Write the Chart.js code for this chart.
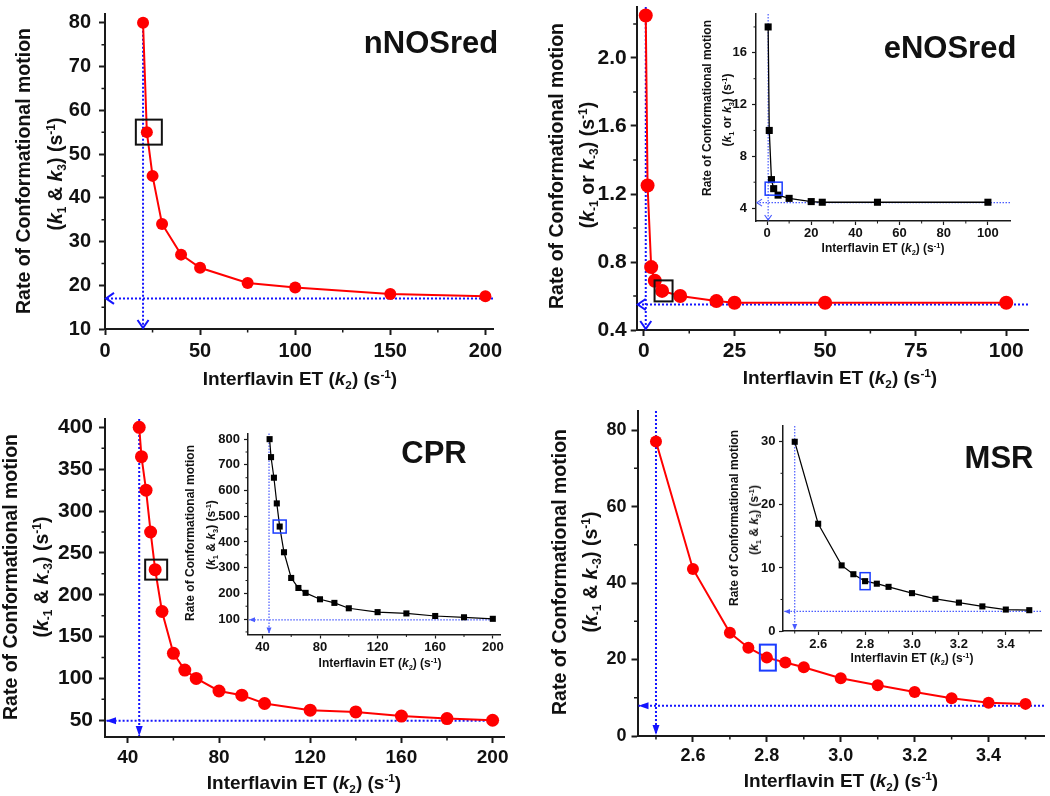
<!DOCTYPE html>
<html>
<head>
<meta charset="utf-8">
<script src="https://cdn.jsdelivr.net/npm/chart.js@4.4.1/dist/chart.umd.min.js"></script>
<style>
  body { margin: 0; width: 1050px; height: 796px; position: relative; overflow: hidden; background: #fff; }
  canvas { position: absolute; }
  .lbl { position: absolute; white-space: nowrap; font-family: "Liberation Sans", Arial, sans-serif; font-weight: bold; color: #111; line-height: 1; }
  .lbl sub, .lbl sup { font-size: 0.62em; line-height: 0; position: relative; vertical-align: baseline; }
  .lbl sub { top: 0.35em; }
  .lbl sup { top: -0.6em; }
</style>
</head>
<body>
<script>
// nNOSred
const nnosK2 = [20, 22, 25, 30, 40, 50, 75, 100, 150, 200];
const nnosRate = [80, 55, 45, 34, 27, 24, 20.5, 19.5, 18, 17.5];
const nnosXTicks = [0, 50, 100, 150, 200];
const nnosYTicks = [10, 20, 30, 40, 50, 60, 70, 80];

// eNOSred (main + inset)
const enosK2 = [0.5, 1, 2, 3, 5, 10, 20, 25, 50, 100];
const enosRate = [2.25, 1.25, 0.77, 0.69, 0.63, 0.60, 0.57, 0.56, 0.56, 0.56];
const enosInsetRate = [18, 10, 6.2, 5.5, 5.0, 4.75, 4.5, 4.45, 4.45, 4.45];
const enosXTicks = [0, 25, 50, 75, 100];
const enosYTicks = [0.4, 0.8, 1.2, 1.6, 2.0];
const enosInsetXTicks = [0, 20, 40, 60, 80, 100];
const enosInsetYTicks = [4, 8, 12, 16];

// CPR (main + inset)
const cprK2 = [45, 46, 48, 50, 52, 55, 60, 65, 70, 80, 90, 100, 120, 140, 160, 180, 200];
const cprRate = [400, 365, 325, 275, 230, 180, 130, 110, 100, 85, 80, 70, 62, 60, 55, 52, 50];
const cprInsetRate = [800, 730, 650, 550, 460, 360, 260, 221, 202, 177, 163, 142, 127, 122, 112, 107, 101];
const cprXTicks = [40, 80, 120, 160, 200];
const cprYTicks = [50, 100, 150, 200, 250, 300, 350, 400];
const cprInsetYTicks = [100, 200, 300, 400, 500, 600, 700, 800];

// MSR (main + inset)
const msrK2 = [2.5, 2.6, 2.7, 2.75, 2.8, 2.85, 2.9, 3.0, 3.1, 3.2, 3.3, 3.4, 3.5];
const msrRate = [77, 43.7, 27, 23.1, 20.5, 19.2, 18, 15.1, 13.3, 11.5, 9.9, 8.7, 8.4];
const msrInsetRate = [30, 17, 10.4, 9, 7.9, 7.5, 7, 6, 5.1, 4.5, 3.9, 3.4, 3.3];
const msrXTicks = [2.6, 2.8, 3.0, 3.2, 3.4];
const msrYTicks = [0, 20, 40, 60, 80];
const msrInsetYTicks = [0, 10, 20, 30];

const FONT = '"Liberation Sans", Arial, sans-serif';
const AXIS = '#1a1a1a';
const RED = '#ff0000';
const BLUE = '#1414ff';
const LIGHTBLUE = '#4a5cff';

// minor ticks sit halfway between the major ones
function minorTicks(major, min, max) {
  const out = [];
  const step = major[1] - major[0];
  out.push(major[0] - step / 2);
  major.forEach(v => out.push(v + step / 2));
  return out.filter(v => v > min + 1e-9 && v < max - 1e-9);
}

function arrow(ctx, tx, ty, dx, dy, style, len, half) {
  const bx = tx - dx * len, by = ty - dy * len;
  const px = -dy, py = dx;
  ctx.beginPath();
  ctx.moveTo(bx + px * half, by + py * half);
  ctx.lineTo(tx, ty);
  ctx.lineTo(bx - px * half, by - py * half);
  if (style === 'open') {
    ctx.stroke();
  } else {
    ctx.closePath();
    ctx.fill();
  }
}

// dotted guide lines, highlight box and minor ticks
const decor = {
  id: 'decor',
  beforeDatasetsDraw(chart, args, o) {
    const { ctx, chartArea: a, scales: { x, y } } = chart;
    const gx = x.getPixelForValue(o.guideX);
    const gy = y.getPixelForValue(o.guideY);
    const top = o.guideTop !== undefined ? y.getPixelForValue(o.guideTop) : a.top;
    const right = o.guideEnd !== undefined ? x.getPixelForValue(o.guideEnd) : a.right;
    ctx.save();
    ctx.strokeStyle = o.guideColor;
    ctx.fillStyle = o.guideColor;
    ctx.lineWidth = o.guideWidth;
    ctx.setLineDash([o.dashOn, o.dashOff]);
    ctx.beginPath();
    ctx.moveTo(gx, top);
    ctx.lineTo(gx, a.bottom - 1);
    ctx.moveTo(right, gy);
    ctx.lineTo(a.left + 1, gy);
    ctx.stroke();
    ctx.setLineDash([]);
    arrow(ctx, gx, a.bottom - 1, 0, 1, o.arrow, o.arrowLen, o.arrowHalf);
    arrow(ctx, a.left + 1, gy, -1, 0, o.arrow, o.arrowLen, o.arrowHalf);
    ctx.restore();
  },
  afterDatasetsDraw(chart, args, o) {
    const { ctx } = chart;
    const pt = chart.getDatasetMeta(0).data[o.boxIndex];
    ctx.save();
    ctx.strokeStyle = o.boxColor;
    ctx.lineWidth = o.boxLine;
    ctx.strokeRect(pt.x - o.boxW / 2 + o.boxDx, pt.y - o.boxH / 2, o.boxW, o.boxH);
    ctx.restore();
  },
  afterDraw(chart, args, o) {
    const { ctx, chartArea: a, scales: { x, y } } = chart;
    ctx.save();
    ctx.strokeStyle = AXIS;
    ctx.lineWidth = o.minorWidth;
    ctx.beginPath();
    minorTicks(x.ticks.map(t => t.value), x.min, x.max).forEach(v => {
      const p = x.getPixelForValue(v);
      ctx.moveTo(p, a.bottom);
      ctx.lineTo(p, a.bottom + o.minorLen);
    });
    minorTicks(y.ticks.map(t => t.value), y.min, y.max).forEach(v => {
      const p = y.getPixelForValue(v);
      ctx.moveTo(a.left, p);
      ctx.lineTo(a.left - o.minorLen, p);
    });
    ctx.stroke();
    ctx.restore();
  }
};
Chart.register(decor);

function addCanvas(left, top, w, h) {
  const c = document.createElement('canvas');
  c.width = w;
  c.height = h;
  c.style.left = left + 'px';
  c.style.top = top + 'px';
  c.style.width = w + 'px';
  c.style.height = h + 'px';
  document.body.appendChild(c);
  return c;
}

function axisOpts(ax, size, st, fit) {
  return {
    type: 'linear',
    min: ax.min,
    max: ax.max,
    afterBuildTicks: s => { s.ticks = ax.ticks.map(v => ({ value: v })); },
    afterFit: fit,
    ticks: {
      font: { family: FONT, size: size, weight: 'bold' },
      color: '#111',
      padding: ax.pad,
      autoSkip: false,
      maxRotation: 0,
      callback: v => v.toFixed(ax.dec)
    },
    grid: { drawOnChartArea: false, drawTicks: true, tickLength: st.tick, tickWidth: st.tw, tickColor: AXIS },
    border: { display: true, color: AXIS, width: st.bw }
  };
}

function panel(p) {
  const [cl, ct, cw, ch] = p.canvas;
  const [pl, pt, pr, pb] = p.plot;
  const c = addCanvas(cl, ct, cw, ch);
  const yWidth = pl - cl;
  const xHeight = ct + ch - pb;
  return new Chart(c, {
    type: 'scatter',
    data: {
      datasets: [{
        data: p.xs.map((v, i) => ({ x: v, y: p.ys[i] })),
        showLine: true,
        borderColor: p.color,
        borderWidth: p.lineWidth,
        pointStyle: p.pointStyle,
        pointRadius: p.radius,
        pointHoverRadius: p.radius,
        pointBackgroundColor: p.color,
        pointBorderWidth: 0,
        clip: false
      }]
    },
    options: {
      responsive: false,
      animation: false,
      events: [],
      layout: { padding: { left: 0, top: pt - ct, right: cl + cw - pr, bottom: 0 } },
      plugins: {
        legend: { display: false },
        tooltip: { enabled: false },
        decor: p.decor
      },
      scales: {
        x: axisOpts(p.x, p.xSize, p.style, s => {
          s.height = xHeight;
          s.paddingLeft = 0; s.paddingRight = 0;
        }),
        y: axisOpts(p.y, p.ySize, p.style, s => {
          s.width = yWidth;
          s.paddingTop = 0; s.paddingBottom = 0;
        })
      }
    }
  });
}

const mainStyle = { tick: 6, tw: 2, bw: 2 };
const insetStyle = { tick: 4, tw: 1.2, bw: 1.5 };
const mainGuide = { guideColor: BLUE, guideWidth: 2, dashOn: 2, dashOff: 2, minorLen: 3.5, minorWidth: 1.5 };
const insetGuide = { guideColor: LIGHTBLUE, guideWidth: 1.2, dashOn: 1.5, dashOff: 1.5, minorLen: 2.5, minorWidth: 1 };

// nNOSred
panel({
  canvas: [0, 0, 525, 395], plot: [105, 14, 493, 329],
  x: { min: 0, max: 204, ticks: nnosXTicks, dec: 0, pad: 4 },
  y: { min: 10, max: 82, ticks: nnosYTicks, dec: 0, pad: 8 },
  xSize: 20, ySize: 20, style: mainStyle,
  xs: nnosK2, ys: nnosRate, color: RED, lineWidth: 2, pointStyle: 'circle', radius: 6,
  decor: Object.assign({}, mainGuide, {
    guideX: 20, guideY: 17, guideTop: 80, arrow: 'open', arrowLen: 8, arrowHalf: 5.5,
    boxIndex: 1, boxW: 26, boxH: 25, boxDx: 2, boxColor: '#111', boxLine: 2
  })
});

// eNOSred
panel({
  canvas: [525, 0, 525, 395], plot: [636.7, 2.25, 1028, 330],
  x: { min: -2, max: 106, ticks: enosXTicks, dec: 0, pad: 3 },
  y: { min: 0.4, max: 2.3, ticks: enosYTicks, dec: 1, pad: 4 },
  xSize: 21, ySize: 21, style: mainStyle,
  xs: enosK2, ys: enosRate, color: RED, lineWidth: 2, pointStyle: 'circle', radius: 7,
  decor: Object.assign({}, mainGuide, {
    guideX: 0.5, guideY: 0.55, arrow: 'open', arrowLen: 8, arrowHalf: 5.5,
    boxIndex: 4, boxW: 18, boxH: 21, boxDx: 1.5, boxColor: '#111', boxLine: 2
  })
});

panel({
  canvas: [715, 4, 320, 241], plot: [756, 14, 1010, 221],
  x: { min: -5, max: 110, ticks: enosInsetXTicks, dec: 0, pad: 1 },
  y: { min: 3, max: 19, ticks: enosInsetYTicks, dec: 0, pad: 5 },
  xSize: 13, ySize: 13, style: insetStyle,
  xs: enosK2, ys: enosInsetRate, color: '#000', lineWidth: 1.3, pointStyle: 'rect', radius: 5,
  decor: Object.assign({}, insetGuide, {
    guideX: 0.5, guideY: 4.42, arrow: 'open', arrowLen: 5, arrowHalf: 3.5,
    boxIndex: 3, boxW: 17, boxH: 13, boxDx: 0, boxColor: '#1a3cff', boxLine: 1.5
  })
});

// CPR
panel({
  canvas: [0, 395, 525, 401], plot: [105, 419, 504, 737],
  x: { min: 30, max: 205, ticks: cprXTicks, dec: 0, pad: 3 },
  y: { min: 30, max: 410, ticks: cprYTicks, dec: 0, pad: 6 },
  xSize: 19, ySize: 21, style: mainStyle,
  xs: cprK2, ys: cprRate, color: RED, lineWidth: 2, pointStyle: 'circle', radius: 6.5,
  decor: Object.assign({}, mainGuide, {
    guideX: 45, guideY: 49.5, guideEnd: 200, arrow: 'filled', arrowLen: 10, arrowHalf: 3.5,
    boxIndex: 4, boxW: 22, boxH: 20, boxDx: 1, boxColor: '#111', boxLine: 2
  })
});

panel({
  canvas: [195, 420, 320, 240], plot: [248, 433.5, 500, 634.5],
  x: { min: 30, max: 205, ticks: cprXTicks, dec: 0, pad: 1.5 },
  y: { min: 40, max: 822, ticks: cprInsetYTicks, dec: 0, pad: 4 },
  xSize: 13, ySize: 13, style: insetStyle,
  xs: cprK2, ys: cprInsetRate, color: '#000', lineWidth: 1.2, pointStyle: 'rect', radius: 4.3,
  decor: Object.assign({}, insetGuide, {
    guideX: 44.6, guideY: 97, guideEnd: 200, arrow: 'filled', arrowLen: 6, arrowHalf: 2.5,
    boxIndex: 4, boxW: 13, boxH: 13, boxDx: 0, boxColor: '#1a3cff', boxLine: 1.5
  })
});

// MSR
panel({
  canvas: [525, 395, 525, 401], plot: [637.5, 411, 1045.5, 736],
  x: { min: 2.45, max: 3.55, ticks: msrXTicks, dec: 1, pad: 3 },
  y: { min: 0, max: 85, ticks: msrYTicks, dec: 0, pad: 5 },
  xSize: 18, ySize: 18, style: mainStyle,
  xs: msrK2, ys: msrRate, color: RED, lineWidth: 2, pointStyle: 'circle', radius: 6,
  decor: Object.assign({}, mainGuide, {
    guideX: 2.5, guideY: 7.9, arrow: 'filled', arrowLen: 10, arrowHalf: 3.5,
    boxIndex: 4, boxW: 16, boxH: 26, boxDx: 1, boxColor: '#1a3cff', boxLine: 2
  })
});

panel({
  canvas: [735, 410, 313, 245], plot: [783, 426, 1041, 631],
  x: { min: 2.45, max: 3.55, ticks: msrXTicks, dec: 1, pad: 1.8 },
  y: { min: 0, max: 32.5, ticks: msrInsetYTicks, dec: 0, pad: 3.5 },
  xSize: 13, ySize: 13, style: insetStyle,
  xs: msrK2, ys: msrInsetRate, color: '#000', lineWidth: 1.2, pointStyle: 'rect', radius: 4.3,
  decor: Object.assign({}, insetGuide, {
    guideX: 2.5, guideY: 3.1, arrow: 'filled', arrowLen: 6, arrowHalf: 2.5,
    boxIndex: 4, boxW: 10, boxH: 17, boxDx: 0, boxColor: '#1a3cff', boxLine: 1.5
  })
});

// text: panel names, axis titles
function addText(html, cx, cy, size, rotate) {
  const d = document.createElement('div');
  d.className = 'lbl';
  d.innerHTML = html;
  d.style.fontSize = size + 'px';
  d.style.left = cx + 'px';
  d.style.top = cy + 'px';
  d.style.transform = 'translate(-50%, -50%)' + (rotate ? ' rotate(-90deg)' : '');
  document.body.appendChild(d);
}

const rateTitle = 'Rate of Conformational motion';
const etTitle = 'Interflavin ET (<i>k</i><sub>2</sub>) (s<sup>-1</sup>)';
const k13 = '(<i>k</i><sub>1</sub> &amp; <i>k</i><sub>3</sub>) (s<sup>-1</sup>)';
const km13or = '(<i>k</i><sub>-1</sub> or <i>k</i><sub>-3</sub>) (s<sup>-1</sup>)';
const k13or = '(<i>k</i><sub>1</sub> or <i>k</i><sub>3</sub>) (s<sup>-1</sup>)';
const km13 = '(<i>k</i><sub>-1</sub> &amp; <i>k</i><sub>-3</sub>) (s<sup>-1</sup>)';

addText('nNOSred', 431, 42, 31);
addText('eNOSred', 950, 47, 31);
addText('CPR', 434, 452, 31);
addText('MSR', 999, 457, 31);

// main axis titles
addText(rateTitle, 24, 171, 19.5, true);
addText(k13, 56, 174, 19.5, true);
addText(etTitle, 300, 378, 19);

addText(rateTitle, 557, 166, 19.5, true);
addText(km13or, 588, 165, 19.5, true);
addText(etTitle, 840, 377, 19);

addText(rateTitle, 11, 577, 19.5, true);
addText(km13, 42, 577, 19.5, true);
addText(etTitle, 304, 782, 19);

addText(rateTitle, 560, 572, 19.5, true);
addText(km13, 591, 572, 19.5, true);
addText(etTitle, 841, 780, 19);

// inset axis titles
addText(rateTitle, 707, 108, 12, true);
addText(k13or, 727, 110, 12, true);
addText(etTitle, 883, 248, 12);

addText(rateTitle, 190, 533, 12, true);
addText(k13, 211, 535, 12, true);
addText(etTitle, 380, 663, 12);

addText(rateTitle, 734, 518, 12, true);
addText(k13, 754, 520, 12, true);
addText(etTitle, 912, 658, 12);
</script>
</body>
</html>
